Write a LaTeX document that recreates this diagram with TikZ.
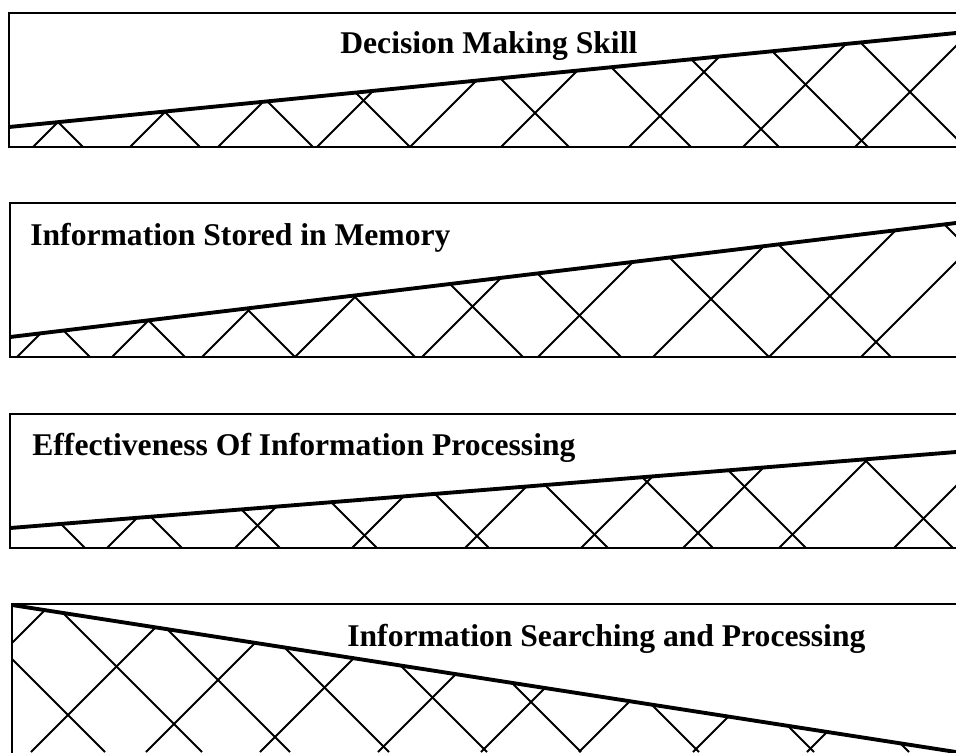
\documentclass[tikz,border=0pt]{standalone}
\usepackage{fontspec}
\setmainfont{Liberation Serif}
\tikzset{frame/.style={line width=1pt},slope/.style={line width=2.2pt},hatch/.style={line width=1.1pt},
  title/.style={font=\fontsize{18}{21}\selectfont\bfseries,anchor=base west,inner sep=0pt}}
\begin{document}
\begin{tikzpicture}[x=0.02cm,y=-0.02cm]
\useasboundingbox (0,0) rectangle (956,752);
\clip (0,0) rectangle (956,752);
\draw[frame] (990,13) -- (9,13) -- (9,147) -- (990,147);
\begin{scope}
\clip (9,127) -- (956,33) -- (956,147) -- (9,147) -- cycle;
\foreach \x in {33,130,218,317,410,501,629,743,855} \draw[hatch] (\x,147) -- ++(160,-160);
\foreach \x in {83,200,313,410,569,691,779,868,965} \draw[hatch] (\x,147) -- ++(-160,-160);
\end{scope}
\draw[slope] (9,127) -- (956,33);
\node[title] (skill) at (340,53) {Decision Making Skill};
\draw[frame] (990,203) -- (10,203) -- (10,357) -- (990,357);
\begin{scope}
\clip (10,337) -- (956,223) -- (956,357) -- (10,357) -- cycle;
\foreach \x in {17,112,202,295,422,538,653,769,861} \draw[hatch] (\x,357) -- ++(160,-160);
\foreach \x in {90,185,295,415,523,621,769,891,1077} \draw[hatch] (\x,357) -- ++(-160,-160);
\end{scope}
\draw[slope] (10,337) -- (956,223);
\node[title] (memory) at (30,245) {Information Stored in Memory};
\draw[frame] (990,414) -- (10,414) -- (10,548) -- (990,548);
\begin{scope}
\clip (10,528) -- (956,452) -- (956,548) -- (10,548) -- cycle;
\foreach \x in {107,235,352,465,581,683,779,894} \draw[hatch] (\x,548) -- ++(160,-160);
\foreach \x in {85,182,280,377,489,608,713,806,953} \draw[hatch] (\x,548) -- ++(-160,-160);
\end{scope}
\draw[slope] (10,528) -- (956,452);
\node[title] (effect) at (32,455) {Effectiveness Of Information Processing};
\draw[frame] (990,604) -- (12,604) -- (12,800);
\begin{scope}
\clip (12,605) -- (956,752) -- (956,800) -- (12,800) -- cycle;
\foreach \x in {-97,31,146,260,378,481,579,693,807} \draw[hatch] (\x,752) -- ++(200,-200);
\foreach \x in {105,202,290,389,487,581,699,814,909} \draw[hatch] (\x,752) -- ++(-200,-200);
\end{scope}
\draw[slope] (12,605) -- (956,752);
\node[title] (search) at (347,646) {Information Searching and Processing};
\end{tikzpicture}
\end{document}
